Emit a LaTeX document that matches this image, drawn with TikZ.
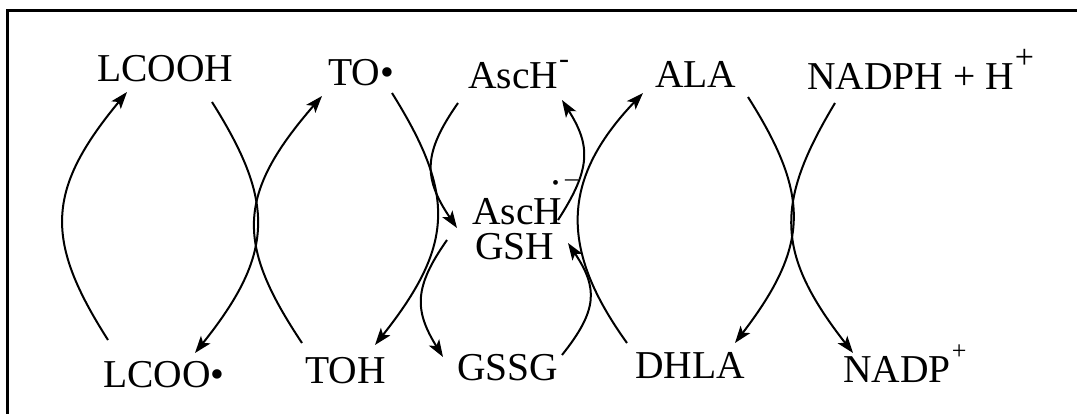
\documentclass[tikz,border=0pt]{standalone}
\usepackage{fontspec}
\setmainfont{Liberation Serif}
\usetikzlibrary{arrows.meta}
\begin{document}
\begin{tikzpicture}[x=1pt,y=-1pt,
  lbl/.style={anchor=base west, inner sep=0pt, font=\fontsize{39.5}{44}\selectfont},
  tight/.style={text depth=0pt, text height=27pt},
  rx/.style={line width=2pt, -{Stealth[length=17pt,width=12pt,inset=4pt]}},
  frame/.style={line width=3pt}]
\useasboundingbox (0,0) rectangle (1077,414);

% open frame: left and top edges only
\draw[frame] (7,414) -- (7,11) -- (1077,11);

% species
\node[lbl] (lcooh) at (97,82) {LCOOH};
\node[lbl] (to) at (328,86) {TO•};
\node[lbl] (asch) at (468,89) {AscH\kern1pt\raisebox{20pt}{\fontsize{30}{30}\selectfont -}};
\node[lbl] (ala) at (655,88) {ALA};
\node[lbl] (nadph) at (807,90) {NADPH + H\kern1pt\raisebox{21pt}{\fontsize{34}{34}\selectfont +}};
\node[lbl,text depth=0pt] (ascrad) at (472,225) {AscH\kern-10pt\raisebox{35pt}{\fontsize{20}{20}\selectfont •}\kern6pt\raisebox{38pt}{\fontsize{26}{26}\selectfont –}};
\node[lbl,tight] (gsh) at (475,260) {GSH};
\node[lbl] (lcoo) at (103,387) {LCOO•};
\node[lbl] (toh) at (305,383) {TOH};
\node[lbl] (gssg) at (457,380) {GSSG};
\node[lbl] (dhla) at (635,378) {DHLA};
\node[lbl] (nadp) at (843,382) {NADP\kern1pt\raisebox{23pt}{\fontsize{26}{26}\selectfont +}};

% arc end points
\coordinate (a1s) at (108,340); \coordinate (a1e) at (127,92);
\coordinate (a2s) at (212,102); \coordinate (a2e) at (195,353);
\coordinate (b1s) at (302,343); \coordinate (b1e) at (322,96);
\coordinate (b2s) at (392,93);  \coordinate (b2e) at (375,345);
\coordinate (c1s) at (458,103); \coordinate (c1e) at (457,228);
\coordinate (c2s) at (447,240); \coordinate (c2e) at (443,357);
\coordinate (d1s) at (558,220); \coordinate (d1e) at (562,100);
\coordinate (d2s) at (562,355); \coordinate (d2e) at (568,243);
\coordinate (e1s) at (627,343); \coordinate (e1e) at (643,93);
\coordinate (e2s) at (748,97);  \coordinate (e2e) at (735,343);
\coordinate (f1s) at (835,103); \coordinate (f1e) at (853,353);

% LCOO. / LCOOH
\draw[rx] (a1s) .. controls (45,241) and (45,191) .. (a1e);
\draw[rx] (a2s) .. controls (275,202) and (275,253) .. (a2e);
% TOH / TO.
\draw[rx] (b1s) .. controls (236,244) and (236,195) .. (b1e);
\draw[rx] (b2s) .. controls (455,194) and (455,244) .. (b2e);
% ascorbate and glutathione
\draw[rx] (c1s) .. controls (423,153) and (423,178) .. (c1e);
\draw[rx] (c2s) .. controls (414,287) and (414,310) .. (c2e);
\draw[rx] (d1s) .. controls (591,169) and (591,146) .. (d1e);
\draw[rx] (d2s) .. controls (598,310) and (598,288) .. (d2e);
% lipoic acid
\draw[rx] (e1s) .. controls (560,250) and (560,180) .. (e1e);
\draw[rx] (e2s) .. controls (810,195) and (810,245) .. (e2e);
% NADPH
\draw[rx] (f1s) .. controls (775,203) and (775,253) .. (f1e);
\end{tikzpicture}
\end{document}
